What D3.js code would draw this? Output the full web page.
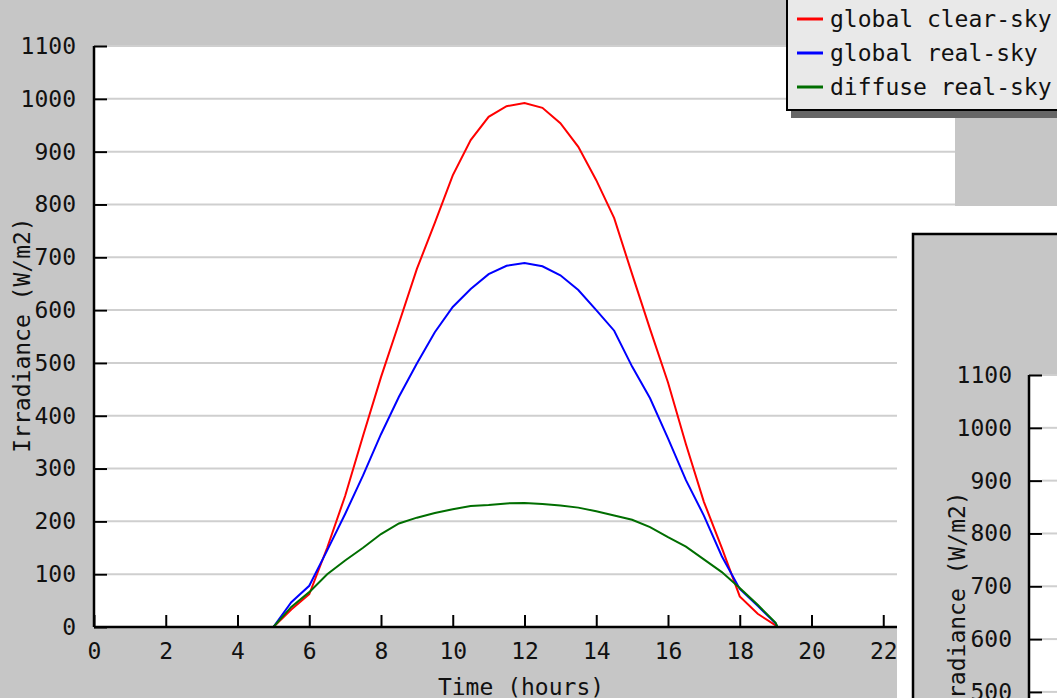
<!DOCTYPE html>
<html>
<head>
<meta charset="utf-8">
<script src="https://cdn.jsdelivr.net/npm/d3@7"></script>
<style>
body { margin: 0; background: #c6c6c6; overflow: hidden; }
text { font-family: "DejaVu Sans Mono", monospace; font-size: 23px; fill: #111; }
</style>
</head>
<body>
<svg id="svg-graph"></svg>
<script>
// hours of the day
const hours = [5.0, 5.5, 6.0, 6.5, 7.0, 7.5, 8.0, 8.5, 9.0, 9.5, 10.0, 10.5, 11.0, 11.5, 12.0,
    12.5, 13.0, 13.5, 14.0, 14.5, 15.0, 15.5, 16.0, 16.5, 17.0, 17.5, 18.0, 18.5, 19.0, 19.05]

const globalClearSky = [0, 33, 62, 150, 248, 362, 473, 575, 678, 765, 855, 922, 966, 986, 992,
    983, 954, 909, 846, 774, 668, 564, 463, 346, 237, 150, 58, 25, 3, 0]
const globalRealSky = [0, 47, 78, 145, 214, 287, 365, 436, 499, 558, 606, 640, 668, 684, 689,
    683, 666, 638, 600, 561, 493, 433, 357, 278, 211, 134, 72, 40, 7, 0]
const diffuseRealSky = [0, 38, 66, 100, 126, 150, 176, 196, 207, 216, 223, 229, 231, 234, 235,
    233, 230, 226, 219, 211, 203, 189, 170, 152, 128, 104, 74, 42, 8, 0]

const seriesNames = ["global clear-sky", "global real-sky", "diffuse real-sky"]
const seriesColors = ["#ff0000", "#0000ff", "#006e00"]

const xTicks = [0, 2, 4, 6, 8, 10, 12, 14, 16, 18, 20, 22]
const yTicks = [0, 100, 200, 300, 400, 500, 600, 700, 800, 900, 1000, 1100]

const svg = d3.select("#svg-graph")
    .attr("width", 1057)
    .attr("height", 698)

svg.append("rect").attr("width", 1057).attr("height", 698).attr("fill", "#c6c6c6")

var x = d3.scaleLinear().domain([0, 24]).range([94, 955])
var y = d3.scaleLinear().domain([0, 1100]).range([627, 46])
var fmt = d3.format("d")

// plot area
svg.append("rect")
    .attr("x", x(0)).attr("y", y(1100))
    .attr("width", x(24) - x(0)).attr("height", y(0) - y(1100))
    .attr("fill", "#fff")

// grid lines
svg.append("g").selectAll("line")
    .data(yTicks.filter(d => d > 0))
    .join("line")
    .attr("x1", x(0) + 13).attr("x2", x(24))
    .attr("y1", d => y(d)).attr("y2", d => y(d))
    .attr("stroke", "#cfcfcf").attr("stroke-width", 2)

// curves
var allSeries = [globalClearSky, globalRealSky, diffuseRealSky]
var line = d3.line()
    .x((d, i) => x(hours[i]))
    .y(d => y(d))

for (var s = 0; s < allSeries.length; s++) {
    svg.append("path")
        .attr("d", line(allSeries[s]))
        .attr("fill", "none")
        .attr("stroke", seriesColors[s])
        .attr("stroke-width", 2)
}

// axes with inward ticks
var yAxis = svg.append("g")
    .attr("transform", "translate(" + x(0) + ",0)")
    .call(d3.axisLeft(y).tickValues(yTicks).tickFormat(fmt).tickSizeInner(-13).tickSizeOuter(0).tickPadding(18))
var xAxis = svg.append("g")
    .attr("transform", "translate(0," + y(0) + ")")
    .call(d3.axisBottom(x).tickValues(xTicks).tickFormat(fmt).tickSizeInner(-12).tickSizeOuter(0).tickPadding(16))

for (var ax of [yAxis, xAxis]) {
    ax.select(".domain").attr("stroke", "#000").attr("stroke-width", 2.5)
    ax.selectAll(".tick line").attr("stroke", "#000").attr("stroke-width", 2)
    ax.selectAll(".tick text").attr("font-family", null).attr("font-size", null).attr("fill", "#111")
}
yAxis.select(".domain").attr("d", "M0," + y(0) + "V" + y(1100))
xAxis.select(".domain").attr("d", "M" + x(0) + ",0H" + x(24))

svg.append("text")
    .attr("x", 521).attr("y", 695)
    .attr("text-anchor", "middle")
    .text("Time (hours)")

svg.append("text")
    .attr("transform", "translate(22,335) rotate(-90)")
    .attr("text-anchor", "middle")
    .attr("dy", "0.35em")
    .text("Irradiance (W/m2)")

// white page part right of the first chart
svg.append("rect")
    .attr("x", 897).attr("y", 206)
    .attr("width", 200).attr("height", 520)
    .attr("fill", "#fff")

// second window, only its y axis is visible
var win = svg.append("g")
win.append("rect")
    .attr("x", 913).attr("y", 234)
    .attr("width", 200).attr("height", 520)
    .attr("fill", "#c6c6c6")
    .attr("stroke", "#000").attr("stroke-width", 2.5)

var y2 = d3.scaleLinear().domain([0, 1100]).range([956, 375])
win.append("rect")
    .attr("x", 1029).attr("y", y2(1100))
    .attr("width", 60).attr("height", 400)
    .attr("fill", "#fff")
win.append("g").selectAll("line")
    .data(yTicks.filter(d => d > 0))
    .join("line")
    .attr("x1", 1042).attr("x2", 1060)
    .attr("y1", d => y2(d)).attr("y2", d => y2(d))
    .attr("stroke", "#cfcfcf").attr("stroke-width", 2)

var yAxis2 = win.append("g")
    .attr("transform", "translate(1029,0)")
    .call(d3.axisLeft(y2).tickValues(yTicks).tickFormat(fmt).tickSizeInner(-13).tickSizeOuter(0).tickPadding(17))
yAxis2.select(".domain").attr("stroke", "#000").attr("stroke-width", 2.5)
    .attr("d", "M0," + y2(0) + "V" + y2(1100))
yAxis2.selectAll(".tick line").attr("stroke", "#000").attr("stroke-width", 2)
yAxis2.selectAll(".tick text").attr("font-family", null).attr("font-size", null).attr("fill", "#111")

win.append("text")
    .attr("transform", "translate(957,609) rotate(-90)")
    .attr("text-anchor", "middle")
    .attr("dy", "0.35em")
    .text("Irradiance (W/m2)")

// legend
var legend = svg.append("g")
legend.append("rect")
    .attr("x", 791).attr("y", -10)
    .attr("width", 300).attr("height", 128)
    .attr("fill", "#666")
legend.append("rect")
    .attr("x", 787).attr("y", -12)
    .attr("width", 300).attr("height", 122)
    .attr("fill", "#e9e9e9")
    .attr("stroke", "#000").attr("stroke-width", 2)

var legendY = d3.scalePoint().domain(seriesNames).range([19, 87])
legend.selectAll("line.key")
    .data(seriesNames)
    .join("line")
    .attr("class", "key")
    .attr("x1", 797).attr("x2", 823)
    .attr("y1", d => legendY(d)).attr("y2", d => legendY(d))
    .attr("stroke", (d, i) => seriesColors[i])
    .attr("stroke-width", 3)
legend.selectAll("text")
    .data(seriesNames)
    .join("text")
    .attr("x", 830)
    .attr("y", d => legendY(d) + 8)
    .text(d => d)
</script>
</body>
</html>
